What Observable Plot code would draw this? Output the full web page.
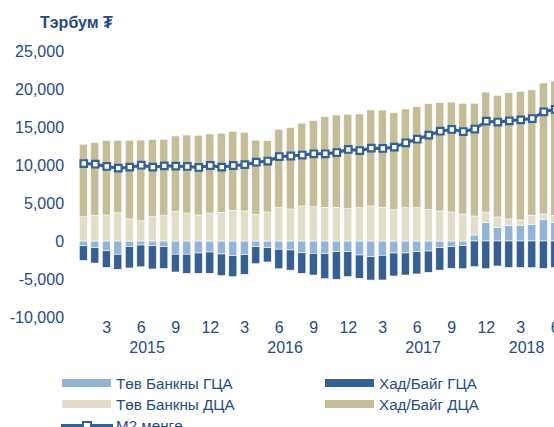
<!DOCTYPE html>
<html>
<head>
<meta charset="utf-8">
<script src="https://cdn.jsdelivr.net/npm/d3@7"></script>
<script src="https://cdn.jsdelivr.net/npm/@observablehq/plot@0.6"></script>
<style>
  html, body { margin: 0; padding: 0; background: #fff; }
  body { width: 554px; height: 427px; overflow: hidden; position: relative;
         font-family: "Liberation Sans", Arial, sans-serif; color: #274b82; }
  #chart { position: absolute; left: 0; top: 0; width: 566px; }
  #chart svg { max-width: none !important; }
  .unit { position: absolute; left: 40px; top: 13px; font-weight: bold; font-size: 16px; line-height: 20px; white-space: nowrap; }
  .sw { position: absolute; width: 49px; height: 8px; }
  .lt { position: absolute; font-size: 15.2px; line-height: 20px; white-space: nowrap; }
</style>
</head>
<body>
<div id="chart"></div>
<div class="unit">Тэрбум ₮</div>
<div id="legend"></div>
<script>
// ---- data (billion ₮), monthly Jan 2015 – Jun 2018 ----
const periods = [
  "2015-01","2015-02","2015-03","2015-04","2015-05","2015-06","2015-07","2015-08","2015-09","2015-10","2015-11","2015-12",
  "2016-01","2016-02","2016-03","2016-04","2016-05","2016-06","2016-07","2016-08","2016-09","2016-10","2016-11","2016-12",
  "2017-01","2017-02","2017-03","2017-04","2017-05","2017-06","2017-07","2017-08","2017-09","2017-10","2017-11","2017-12",
  "2018-01","2018-02","2018-03","2018-04","2018-05","2018-06"
];
const years = [2015, 2016, 2017, 2018];
const seriesNames = ["Төв Банкны ГЦА", "Хад/Байг ГЦА", "Төв Банкны ДЦА", "Хад/Байг ДЦА"];
const lineName = "М2 мөнгө";

// Төв Банкны ГЦА
const tbGCA = [-630,-870,-1290,-1740,-750,-530,-630,-750,-1740,-1740,-1580,-1450,
  -1710,-1930,-1800,-750,-880,-1080,-1180,-1550,-1620,-1670,-1410,-1410,
  -1840,-2070,-1880,-1580,-1580,-1410,-1320,-880,-750,-620,790,2430,
  1780,2080,2080,2150,2870,2430];
// Хад/Байг ГЦА
const hbGCA = [-1930,-2030,-2170,-1990,-2800,-2870,-3050,-2870,-2340,-2510,-2670,-2800,
  -2860,-2760,-2580,-2240,-1880,-2580,-2660,-2700,-2860,-3290,-3630,-3290,
  -3070,-3070,-3250,-3030,-2900,-2930,-2800,-2950,-2840,-3030,-3380,-3650,
  -3290,-3490,-3460,-3510,-3590,-3510];
// Төв Банкны ДЦА
const tbDCA = [3200,3360,3420,3710,2900,2660,3200,3330,3910,3680,3420,3680,
  3780,4040,3950,3490,3820,4380,4210,4610,4510,4430,4430,4250,
  4380,4610,4430,4120,4380,4380,4120,3950,3820,3550,2500,1380,
  1380,820,680,1240,680,920];
// Хад/Байг ДЦА
const hbDCA = [9530,9580,9780,9540,10360,10620,10160,10050,9910,10260,10490,10400,
  10400,10400,10360,9780,9380,10320,10750,10900,11340,11920,12150,12420,
  12330,12630,12800,12760,12990,13290,13950,14250,14470,14570,14830,15790,
  15990,16620,16930,16490,17240,17700];
// М2 мөнгө
const m2 = [10260,10170,9870,9650,9780,10040,9780,9960,9910,9870,9740,10000,
  9780,10000,10110,10430,10590,11180,11250,11380,11540,11540,11710,12110,
  11970,12280,12240,12410,12990,13460,13990,14510,14740,14470,14800,15830,
  15720,15880,16010,16180,17070,17400];
const yTicks = [-10000, -5000, 0, 5000, 10000, 15000, 20000, 25000];

// ---- styling ----
const colors = ["#95b3d7", "#366092", "#e1ddc9", "#c4bd97"];
const lineColor = "#366092";

const seriesValues = [tbGCA, hbGCA, tbDCA, hbDCA];
const rows = seriesNames.flatMap((s, k) => seriesValues[k].map((v, i) => ({t: i, series: s, value: v})));
const m2Rows = m2.map((v, i) => ({t: i, value: v}));
const yearRows = years.map(y => ({
  year: String(y),
  t: d3.mean(periods.map((p, i) => p.startsWith(String(y)) ? i : null).filter(i => i !== null))
}));
const monthOf = i => +periods[i].slice(5);
const xTicks = periods.map((p, i) => i).filter(i => monthOf(i) % 3 === 0);

const half = 0.35;
const chart = Plot.plot({
  width: 566,
  height: 365,
  marginLeft: 77.55,
  marginRight: 5.45,
  marginTop: 51,
  marginBottom: 48,
  style: {fontFamily: "'Liberation Sans', Arial, sans-serif", fontSize: "16px", color: "#274b82", background: "transparent", overflow: "visible", maxWidth: "none"},
  x: {type: "linear", domain: [-0.5, periods.length - 0.5], ticks: xTicks, tickFormat: i => String(monthOf(i)), tickSize: 0, tickPadding: 4, label: null},
  y: {domain: [-10000, 25000], ticks: yTicks, tickFormat: d => d.toLocaleString("en-US"), tickSize: 0, tickPadding: 14, label: null},
  color: {domain: seriesNames, range: colors},
  marks: [
    Plot.rectY(rows, {x1: d => d.t - half, x2: d => d.t + half, y: "value", fill: "series", stroke: "white", strokeWidth: 0.6}),
    Plot.line(m2Rows, {x: "t", y: "value", stroke: lineColor, strokeWidth: 3}),
    Plot.dot(m2Rows, {x: "t", y: "value", symbol: "square", r: 3.7, fill: "white", stroke: lineColor, strokeWidth: 2.2}),
    Plot.text(yearRows, {x: "t", text: "year", frameAnchor: "bottom", dy: 35, fill: "currentColor", fontSize: 16})
  ]
});
chart.style.maxWidth = "none";
document.getElementById("chart").appendChild(chart);

// ---- legend ----
const legend = document.getElementById("legend");
const legendItems = [
  {name: seriesNames[0], color: colors[0], x: 62, y: 383.5},
  {name: seriesNames[1], color: colors[1], x: 325, y: 383.5},
  {name: seriesNames[2], color: colors[2], x: 62, y: 404.5},
  {name: seriesNames[3], color: colors[3], x: 325, y: 404.5}
];
legendItems.forEach(it => {
  const sw = document.createElement("div");
  sw.className = "sw";
  sw.style.left = it.x + "px";
  sw.style.top = (it.y - 4.5) + "px";
  sw.style.background = it.color;
  legend.appendChild(sw);
  const tx = document.createElement("div");
  tx.className = "lt";
  tx.style.left = (it.x + 54) + "px";
  tx.style.top = (it.y - 10) + "px";
  tx.textContent = it.name;
  legend.appendChild(tx);
});
// line legend
const ly = 425.5;
const ln = document.createElement("div");
ln.style.cssText = `position:absolute;left:61px;top:${ly - 1.5}px;width:52px;height:3px;background:${lineColor}`;
legend.appendChild(ln);
const mk = document.createElement("div");
mk.style.cssText = `position:absolute;left:82px;top:${ly - 5}px;width:6px;height:6px;background:#fff;border:2.2px solid ${lineColor}`;
legend.appendChild(mk);
const lt = document.createElement("div");
lt.className = "lt";
lt.style.left = "116px";
lt.style.top = (ly - 10) + "px";
lt.textContent = lineName;
legend.appendChild(lt);
</script>
</body>
</html>
